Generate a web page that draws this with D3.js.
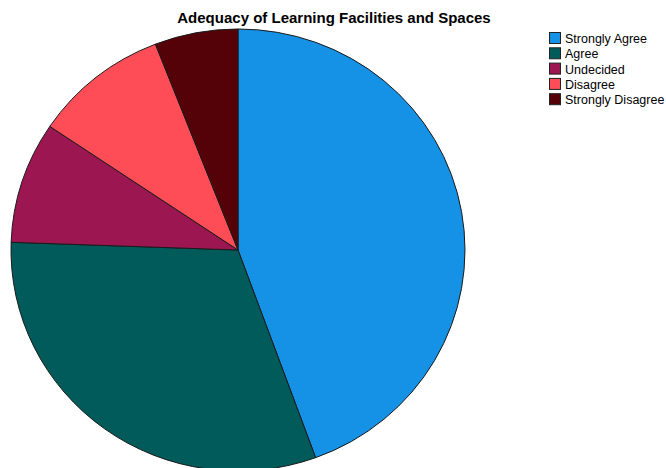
<!DOCTYPE html>
<html>
<head>
<meta charset="utf-8">
<script src="https://cdn.jsdelivr.net/npm/d3@7/dist/d3.min.js"></script>
<style>
  html, body { margin: 0; padding: 0; background: #fff; }
  svg { display: block; }
  text { font-family: "Liberation Sans", Arial, sans-serif; }
</style>
</head>
<body>
<svg id="chart" width="666" height="468"></svg>
<script>
// Responses per answer option
const categories = ["Strongly Agree", "Agree", "Undecided", "Disagree", "Strongly Disagree"];
const counts = [60, 42, 12, 13, 8];
const colors = ["#1591E6", "#015B5B", "#9C1651", "#FF4D57", "#540208"];
const title = "Adequacy of Learning Facilities and Spaces";

const svg = d3.select("#chart");
const cx = 238, cy = 250, rx = 227, ry = 221;

const color = d3.scaleOrdinal().domain(categories).range(colors);

const data = categories.map((c, i) => ({ category: c, value: counts[i] }));
const pie = d3.pie().value(d => d.value).sort(null).startAngle(0).endAngle(2 * Math.PI);
const arc = d3.arc().innerRadius(0).outerRadius(rx);

// Slightly flattened pie: draw circular arcs, squash vertically
const g = svg.append("g")
  .attr("transform", `translate(${cx},${cy}) scale(1,${ry / rx})`);

g.selectAll("path")
  .data(pie(data))
  .join("path")
  .attr("d", arc)
  .attr("fill", d => color(d.data.category))
  .attr("stroke", "#1a1a1a")
  .attr("stroke-width", 1)
  .attr("vector-effect", "non-scaling-stroke")
  .attr("stroke-linejoin", "round");

svg.append("text")
  .attr("x", 334)
  .attr("y", 23)
  .attr("text-anchor", "middle")
  .attr("font-size", 15)
  .attr("font-weight", "bold")
  .attr("fill", "#000")
  .text(title);

const legend = svg.append("g").attr("transform", "translate(549,32)");
const rowH = 15.3;
const items = legend.selectAll("g")
  .data(categories)
  .join("g")
  .attr("transform", (d, i) => `translate(0,${i * rowH})`);

items.append("rect")
  .attr("x", 0.5).attr("y", 0.5)
  .attr("width", 11).attr("height", 11)
  .attr("fill", d => color(d))
  .attr("stroke", "#222")
  .attr("stroke-width", 1);

items.append("text")
  .attr("x", 16)
  .attr("y", 11)
  .attr("font-size", 12.5)
  .attr("fill", "#000")
  .text(d => d);
</script>
</body>
</html>
